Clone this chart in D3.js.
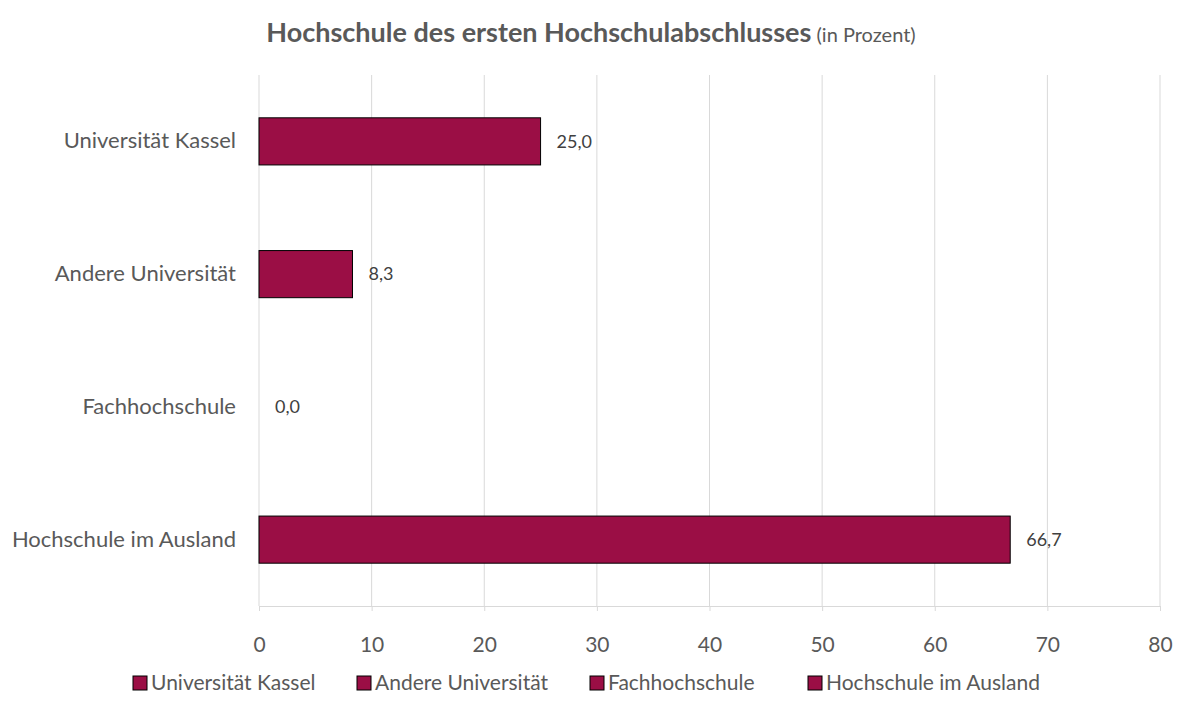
<!DOCTYPE html>
<html>
<head>
<meta charset="utf-8">
<script src="https://cdn.jsdelivr.net/npm/d3@7"></script>
<style>
  body { margin: 0; background: #fff; }
  svg { font-family: Lato, "Open Sans", sans-serif; }
</style>
</head>
<body>
<div id="chart"></div>
<script>
const categories = ["Universität Kassel", "Andere Universität", "Fachhochschule", "Hochschule im Ausland"];
const values = [25.0, 8.3, 0.0, 66.7];
const xTicks = [0, 10, 20, 30, 40, 50, 60, 70, 80];

const width = 1181, height = 706;
const margin = {top: 75, right: 21, bottom: 100, left: 259};
const barColor = "#9B0E45";
const textColor = "#595959";
const gridColor = "#d9d9d9";

const svg = d3.select("#chart").append("svg")
    .attr("width", width)
    .attr("height", height)
    .attr("viewBox", [0, 0, width, height]);

const x = d3.scaleLinear().domain([0, 80]).range([margin.left, width - margin.right]);
const y = d3.scaleBand().domain(categories).range([margin.top, height - margin.bottom]).paddingInner(0.645).paddingOuter(0.3225);

// title
svg.append("text")
    .attr("x", 591)
    .attr("y", 42)
    .attr("text-anchor", "middle")
    .attr("fill", textColor)
    .attr("font-size", 27)
    .call(t => t.append("tspan").attr("font-weight", "bold").text("Hochschule des ersten Hochschulabschlusses"))
    .call(t => t.append("tspan").attr("font-size", 20).text(" (in Prozent)"));

// gridlines
svg.append("g")
  .selectAll("line")
  .data(xTicks)
  .join("line")
    .attr("x1", d => x(d)).attr("x2", d => x(d))
    .attr("y1", margin.top).attr("y2", height - margin.bottom)
    .attr("stroke", gridColor);

// x axis
svg.append("g")
    .attr("transform", `translate(0,${height - margin.bottom})`)
    .call(d3.axisBottom(x).tickValues(xTicks).tickSize(5).tickPadding(26))
    .attr("font-family", null)
    .call(g => g.select(".domain").attr("stroke", gridColor))
    .call(g => g.selectAll(".tick line").attr("stroke", gridColor))
    .call(g => g.selectAll(".tick text").attr("fill", textColor).attr("font-size", 21));

// y labels
svg.append("g")
    .attr("transform", `translate(${margin.left},0)`)
    .call(d3.axisLeft(y).tickSize(0).tickPadding(23))
    .attr("font-family", null)
    .call(g => g.select(".domain").remove())
    .call(g => g.selectAll(".tick text").attr("fill", textColor).attr("font-size", 22));

// bars
svg.append("g")
  .selectAll("rect")
  .data(values)
  .join("rect")
    .attr("x", x(0))
    .attr("y", (d, i) => y(categories[i]))
    .attr("width", d => x(d) - x(0))
    .attr("height", y.bandwidth())
    .attr("fill", barColor)
    .attr("stroke", d => d > 0 ? "#000" : "none")
    .attr("stroke-width", 1);

// value labels
svg.append("g")
  .selectAll("text")
  .data(values)
  .join("text")
    .attr("x", d => x(d) + 16)
    .attr("y", (d, i) => y(categories[i]) + y.bandwidth() / 2)
    .attr("dy", "0.35em")
    .attr("fill", "#404040")
    .attr("font-size", 18)
    .text(d => d3.format(".1f")(d).replace(".", ","));

// legend
const legendX = [133, 357, 590, 808];
const legend = svg.append("g")
  .selectAll("g")
  .data(categories)
  .join("g")
    .attr("transform", (d, i) => `translate(${legendX[i]},683)`);
legend.append("rect")
    .attr("x", 0).attr("y", -7)
    .attr("width", 14).attr("height", 14)
    .attr("fill", barColor)
    .attr("stroke", "#000");
legend.append("text")
    .attr("x", 18)
    .attr("dy", "0.35em")
    .attr("fill", textColor)
    .attr("font-size", 21)
    .text(d => d);
</script>
</body>
</html>
